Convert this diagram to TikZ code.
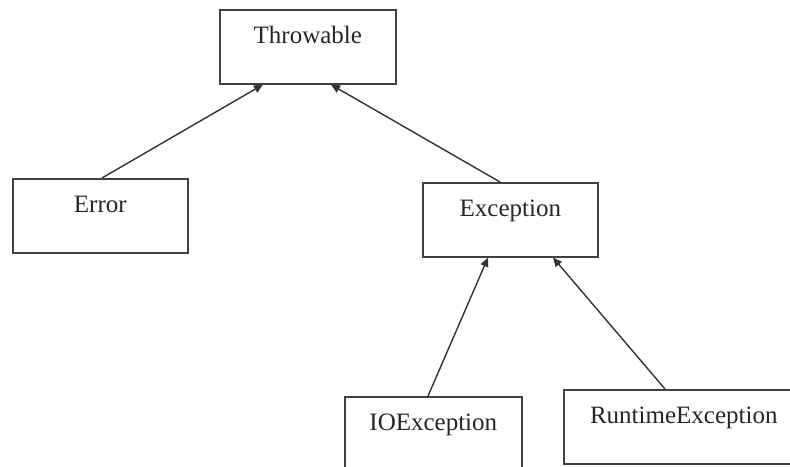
\documentclass[tikz,border=0pt]{standalone}
\usepackage{fontspec}
\setmainfont{Liberation Serif}
\usetikzlibrary{arrows.meta, positioning}

\begin{document}
\begin{tikzpicture}[x=1pt, y=-1pt,
    cls/.style={draw=black!75, line width=1.6pt, anchor=north west, minimum width=176pt,
        inner xsep=0pt, inner ysep=0pt, text height=34pt, text depth=40pt,
        text=black!85, font=\fontsize{25}{30}\selectfont},
    inh/.style={-{Triangle[length=9pt,width=8pt]}, draw=black!80, line width=1.4pt}
]

% Frame
\useasboundingbox (0,0) rectangle (790,466);
\clip (0,0) rectangle (790,466);

% Classes
\node[cls] (thr) at (219,9) {Throwable};
\node[cls, minimum width=175pt] (err) at (12,178) {Error};
\node[cls, minimum width=175pt] (exc) at (422,182) {Exception};
\node[cls, minimum width=177pt] (ioe) at (344,396) {IOException};
\node[cls, minimum width=240pt] (rte) at (563,389) {RuntimeException};

% Inheritance
\draw[inh] ([xshift=90pt]err.north west) -- ([xshift=44pt]thr.south west);
\draw[inh] ([xshift=78pt]exc.north west) -- ([xshift=112pt]thr.south west);
\draw[inh] ([xshift=84pt]ioe.north west) -- ([xshift=66pt]exc.south west);
\draw[inh] ([xshift=102pt]rte.north west) -- ([xshift=131pt]exc.south west);

\end{tikzpicture}
\end{document}
